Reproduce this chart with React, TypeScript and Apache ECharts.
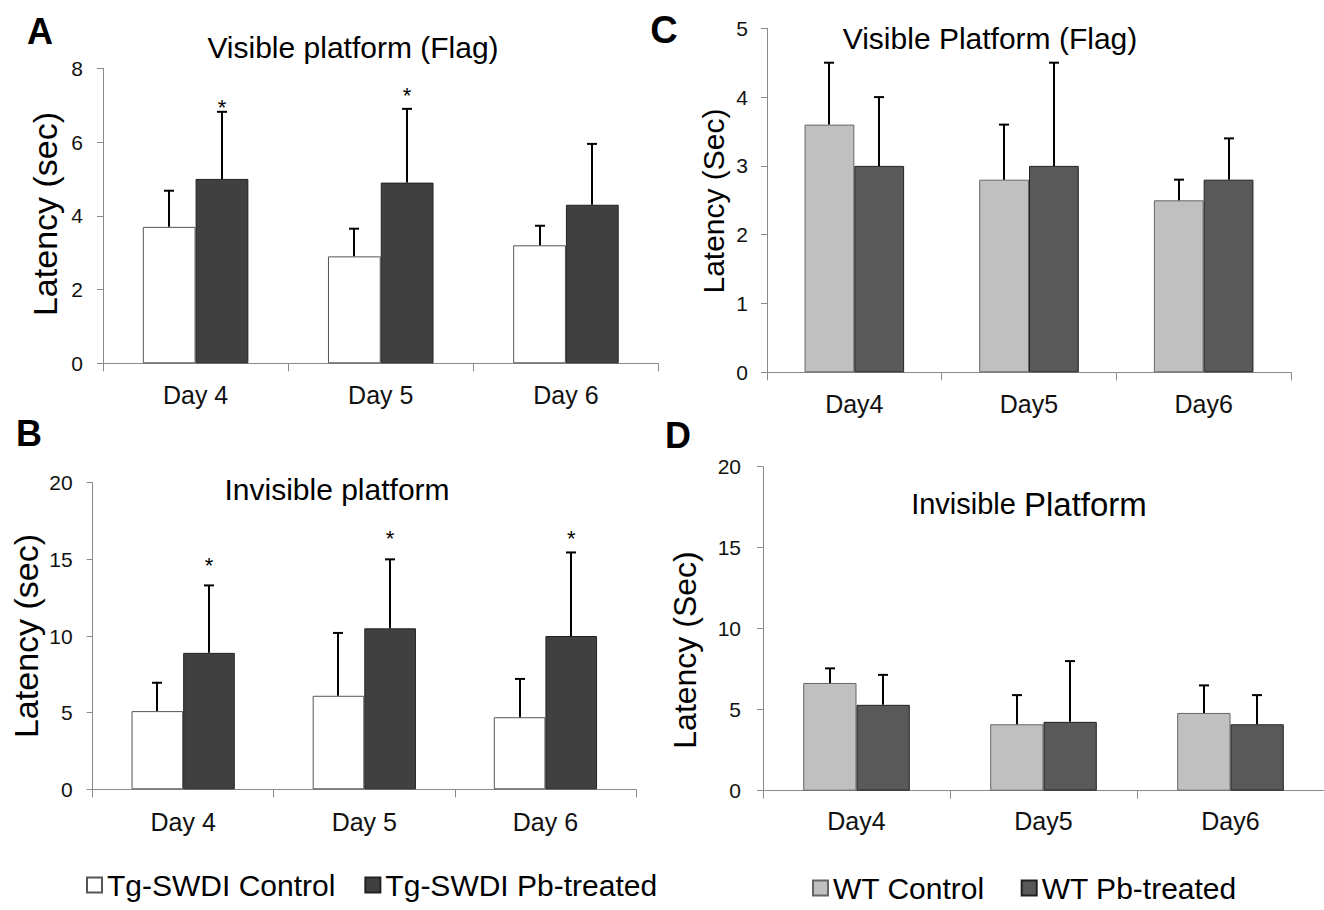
import React, { useEffect, useRef } from "react";
import * as echarts from "echarts";

const FONT = "'Liberation Sans', Arial, sans-serif";

const daysTg = ["Day 4", "Day 5", "Day 6"];
const daysWT = ["Day4", "Day5", "Day6"];

// Panel A – Tg-SWDI, visible platform (Flag)
const aControl = [3.7, 2.9, 3.2];
const aControlSd = [0.98, 0.75, 0.53];
const aPb = [5.0, 4.9, 4.3];
const aPbSd = [1.82, 2.0, 1.65];
const aStar = [7.0, 7.33, null];

// Panel B – Tg-SWDI, invisible platform
const bControl = [5.1, 6.1, 4.7];
const bControlSd = [1.85, 4.1, 2.5];
const bPb = [8.9, 10.5, 10.0];
const bPbSd = [4.4, 4.5, 5.45];
const bStar = [14.76, 16.46, 16.48];

// Panel C – WT, visible platform (Flag)
const cControl = [3.6, 2.8, 2.5];
const cControlSd = [0.9, 0.8, 0.3];
const cPb = [3.0, 3.0, 2.8];
const cPbSd = [1.0, 1.5, 0.6];

// Panel D – WT, invisible platform
const dControl = [6.65, 4.1, 4.8];
const dControlSd = [0.9, 1.8, 1.7];
const dPb = [5.3, 4.25, 4.1];
const dPbSd = [1.85, 3.75, 1.8];

const GAP = 0.43;

function errData(mean: number[], sd: number[]) {
  return mean.map((m, i) => [i, m, +(m + sd[i]).toFixed(3)]);
}
function starData(stars: (number | null)[]) {
  const out: number[][] = [];
  stars.forEach((s, i) => {
    if (s != null) out.push([i, s]);
  });
  return out;
}

function errRender(group: number) {
  return (params: any, api: any) => {
    const cat = api.value(0);
    const mean = api.value(1);
    const top = api.value(2);
    const catW = api.size([1, 0])[0];
    const barW = (catW * (1 - GAP)) / 2;
    const base = api.coord([cat, mean]);
    const tp = api.coord([cat, top]);
    const x = Math.round(base[0] + (group === 0 ? -barW / 2 : barW / 2));
    return {
      type: "group",
      children: [
        { type: "line", shape: { x1: x, y1: base[1], x2: x, y2: tp[1] }, style: { stroke: "#000", lineWidth: 2 } },
        { type: "line", shape: { x1: x - 5, y1: tp[1], x2: x + 5, y2: tp[1] }, style: { stroke: "#000", lineWidth: 2 } },
      ],
    };
  };
}

function starRender(params: any, api: any) {
  const cat = api.value(0);
  const v = api.value(1);
  const catW = api.size([1, 0])[0];
  const barW = (catW * (1 - GAP)) / 2;
  const p = api.coord([cat, v]);
  return {
    type: "text",
    x: p[0] + barW / 2,
    y: p[1] + 2,
    style: { text: "*", fontSize: 22, fontFamily: FONT, fill: "#000", textAlign: "center", textVerticalAlign: "middle" },
  };
}

const axisGray = "#8a8a8a";

function xAxis(gridIndex: number, data: string[], margin: number) {
  return {
    type: "category",
    gridIndex,
    data,
    axisLine: { show: true, lineStyle: { color: axisGray, width: 1 } },
    axisTick: { show: true, length: 8, interval: 0, lineStyle: { color: axisGray } },
    axisLabel: { fontSize: 25, fontFamily: FONT, color: "#111", margin, interval: 0 },
    splitLine: { show: false },
  };
}
function yAxis(gridIndex: number, max: number, interval: number, margin: number) {
  return {
    type: "value",
    gridIndex,
    min: 0,
    max,
    interval,
    axisLine: { show: true, lineStyle: { color: axisGray, width: 1 } },
    axisTick: { show: true, length: 6, lineStyle: { color: axisGray } },
    axisLabel: { fontSize: 21, fontFamily: FONT, color: "#111", margin },
    splitLine: { show: false },
  };
}

function barSeries(name: string, idx: number, data: number[], color: string, border: string) {
  return {
    type: "bar",
    name,
    xAxisIndex: idx,
    yAxisIndex: idx,
    data,
    barGap: "0%",
    barCategoryGap: GAP * 100 + "%",
    itemStyle: { color, borderColor: border, borderWidth: 1 },
    z: 2,
  };
}
function errSeries(idx: number, group: number, mean: number[], sd: number[]) {
  return {
    type: "custom",
    xAxisIndex: idx,
    yAxisIndex: idx,
    data: errData(mean, sd),
    encode: { x: 0, y: 2 },
    renderItem: errRender(group),
    z: 3,
    silent: true,
  };
}
function starSeries(idx: number, stars: (number | null)[]) {
  return {
    type: "custom",
    xAxisIndex: idx,
    yAxisIndex: idx,
    data: starData(stars),
    encode: { x: 0, y: 1 },
    renderItem: starRender,
    z: 4,
    silent: true,
  };
}

function text(t: string, x: number, y: number, size: number, opts: any = {}) {
  return {
    type: "text",
    x,
    y,
    rotation: opts.rotation || 0,
    style: {
      text: t,
      fontSize: size,
      fontFamily: FONT,
      fontWeight: opts.bold ? "bold" : "normal",
      fill: "#000",
      textAlign: opts.align || "center",
      textVerticalAlign: "middle",
      rich: opts.rich,
    },
  };
}

export default function App() {
  const ref = useRef<HTMLDivElement>(null);
  useEffect(() => {
    if (!ref.current) return;
    const chart = echarts.init(ref.current, undefined, { renderer: "svg" });
    const option: any = {
      animation: false,
      backgroundColor: "#fff",
      textStyle: { fontFamily: FONT },
      grid: [
        { left: 103, top: 68.3, width: 555.5, height: 295 },
        { left: 92.6, top: 482.7, width: 543.4, height: 306.6 },
        { left: 767, top: 28.3, width: 524, height: 344 },
        { left: 763, top: 466.7, width: 564, height: 324 },
      ],
      xAxis: [xAxis(0, daysTg, 19), xAxis(1, daysTg, 20), xAxis(2, daysWT, 19), xAxis(3, daysWT, 18)],
      yAxis: [yAxis(0, 8, 2, 20), yAxis(1, 20, 5, 20), yAxis(2, 5, 1, 19), yAxis(3, 20, 5, 22)],
      legend: [
        {
          left: 81,
          top: 865,
          data: ["Tg-SWDI Control", "Tg-SWDI Pb-treated"],
          icon: "rect",
          itemWidth: 15,
          itemHeight: 15,
          itemGap: 29,
          textStyle: { fontSize: 30, fontFamily: FONT, color: "#000" },
        },
        {
          left: 807,
          top: 868,
          data: ["WT Control", "WT Pb-treated"],
          icon: "rect",
          itemWidth: 15,
          itemHeight: 15,
          itemGap: 36,
          textStyle: { fontSize: 30, fontFamily: FONT, color: "#000" },
        },
      ],
      series: [
        barSeries("Tg-SWDI Control", 0, aControl, "#ffffff", "#555"),
        barSeries("Tg-SWDI Pb-treated", 0, aPb, "#404040", "#222"),
        errSeries(0, 0, aControl, aControlSd),
        errSeries(0, 1, aPb, aPbSd),
        starSeries(0, aStar),
        barSeries("Tg-SWDI Control", 1, bControl, "#ffffff", "#555"),
        barSeries("Tg-SWDI Pb-treated", 1, bPb, "#404040", "#222"),
        errSeries(1, 0, bControl, bControlSd),
        errSeries(1, 1, bPb, bPbSd),
        starSeries(1, bStar),
        barSeries("WT Control", 2, cControl, "#c0c0c0", "#666"),
        barSeries("WT Pb-treated", 2, cPb, "#595959", "#222"),
        errSeries(2, 0, cControl, cControlSd),
        errSeries(2, 1, cPb, cPbSd),
        barSeries("WT Control", 3, dControl, "#c0c0c0", "#666"),
        barSeries("WT Pb-treated", 3, dPb, "#595959", "#222"),
        errSeries(3, 0, dControl, dControlSd),
        errSeries(3, 1, dPb, dPbSd),
      ],
      graphic: [
        text("A", 40, 31.5, 36, { bold: true }),
        text("B", 29, 433.5, 36, { bold: true }),
        text("C", 664, 30, 38, { bold: true }),
        text("D", 678, 435, 36, { bold: true }),
        text("Visible platform (Flag)", 353, 47, 30),
        text("Invisible platform", 337, 489, 30),
        text("Visible Platform (Flag)", 990, 38, 30),
        text("{a|Invisible }{b|Platform}", 1029, 504, 29, {
          rich: {
            a: { fontSize: 29, fontFamily: FONT, fill: "#000" },
            b: { fontSize: 33, fontFamily: FONT, fill: "#000" },
          },
        }),
        text("Latency (sec)", 45, 214, 34, { rotation: Math.PI / 2 }),
        text("Latency (sec)", 26, 636, 34, { rotation: Math.PI / 2 }),
        text("Latency (Sec)", 713, 201, 30, { rotation: Math.PI / 2 }),
        text("Latency (Sec)", 685, 650, 32, { rotation: Math.PI / 2 }),
      ],
    };
    chart.setOption(option);
    return () => chart.dispose();
  }, []);
  return (
    <div
      ref={ref}
      style={{ position: "fixed", left: 0, top: 0, width: 1324, height: 910, background: "#fff" }}
    />
  );
}
